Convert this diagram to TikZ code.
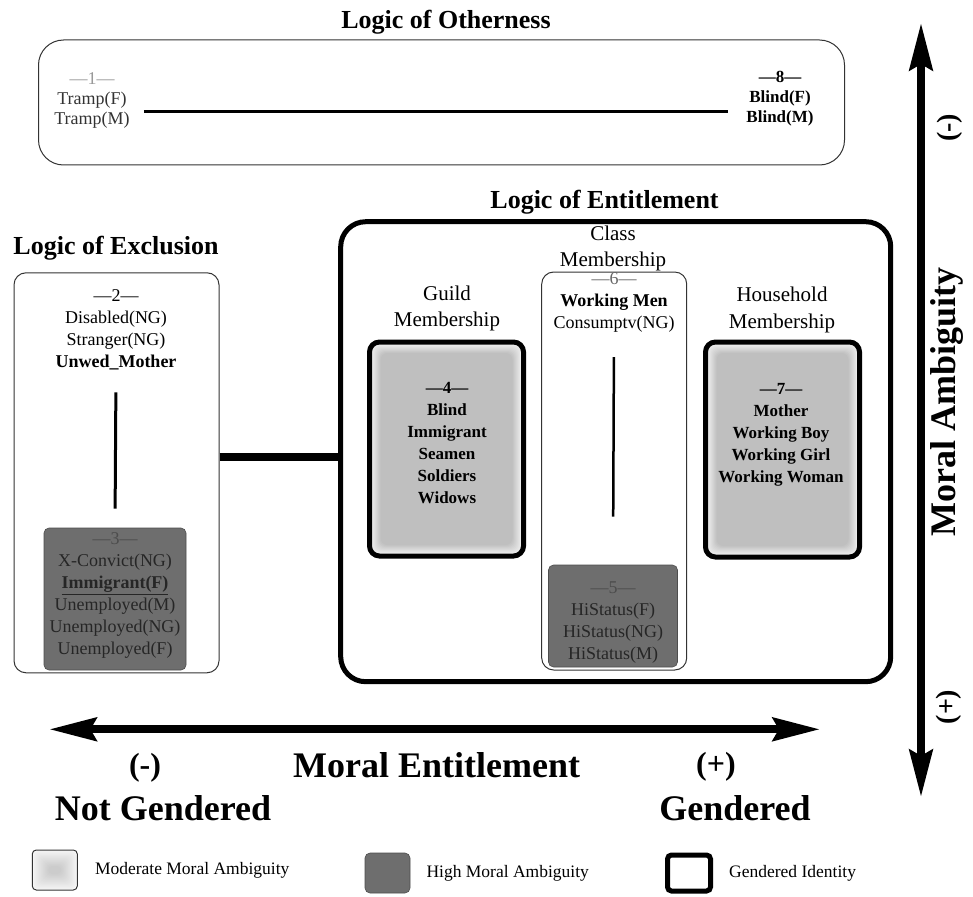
\documentclass[tikz,border=0pt]{standalone}
\usepackage{fontspec}
\setmainfont{Liberation Serif}
\usetikzlibrary{arrows.meta,positioning}
\definecolor{darkamb}{HTML}{6E6E6E}
\definecolor{rimgray}{HTML}{333333}

\begin{document}
\begin{tikzpicture}[x=1pt,y=-1pt,
	title/.style={font=\bfseries\fontsize{26}{30}\selectfont},
	memlbl/.style={align=center,font=\fontsize{21}{26.5}\selectfont},
	items/.style={align=center,inner sep=1pt,font=\fontsize{18}{22}\selectfont},
	bolditems/.style={align=center,inner sep=1pt,font=\bfseries\fontsize{17}{22}\selectfont},
	thinbox/.style={draw=rimgray,line width=1pt,inner sep=0pt},
	thickbox/.style={draw,line width=5pt,inner sep=0pt,rounded corners=10pt},
	highamb/.style={fill=darkamb,draw=darkamb!70!black,line width=.6pt,rounded corners=5pt,inner sep=0pt},
	glow/.style={fill=black!4,path picture={
		\foreach \k in {3,...,11}{
			\pgfmathtruncatemacro\lev{2*\k+3}
			\fill[black!\lev,rounded corners=7pt]
				([shift={(\k pt,-\k pt)}]path picture bounding box.north west) rectangle
				([shift={(-\k pt,\k pt)}]path picture bounding box.south east);
		}}},
	softglow/.style={fill=white,path picture={
		\foreach \k in {1,...,16}{
			\pgfmathtruncatemacro\lev{\k+4}
			\fill[black!\lev,rounded corners=4pt]
				([shift={(\k pt,-\k pt)}]path picture bounding box.north west) rectangle
				([shift={(-\k pt,\k pt)}]path picture bounding box.south east);
		}}},
	rule/.style={line width=3pt},
	axis/.style={line width=8pt,{Stealth[length=47pt,width=23pt,inset=6pt]}-{Stealth[length=47pt,width=23pt,inset=6pt]}},
	axislbl/.style={font=\bfseries\fontsize{36}{40}\selectfont},
	sign/.style={font=\bfseries\fontsize{32}{34}\selectfont},
	legtxt/.style={font=\fontsize{17.5}{20}\selectfont,inner sep=1pt}]

\useasboundingbox (0,0) rectangle (973,896);

% logic of otherness
\node[title] (othT) at (446,22) {Logic of Otherness};
\node[thinbox,rounded corners=25pt,minimum width=806pt,minimum height=125pt] (oth) at (441.5,102.5) {};
\node[items,font=\fontsize{18}{20}\selectfont,text=rimgray] (t1) at (92,100) {\textcolor{black!40}{---1---}\\Tramp(F)\\Tramp(M)};
\node[bolditems,font=\bfseries\fontsize{17}{20}\selectfont] (t8) at (780,99) {---8---\\Blind(F)\\Blind(M)};
\draw[rule] ([shift={(13,11.7)}]t1.east) -- ([shift={(-17,12.7)}]t8.west);

% logic of exclusion
\node[title] (excT) at (116,248) {Logic of Exclusion};
\node[thinbox,rounded corners=12pt,minimum width=205pt,minimum height=400pt] (excl) at (116.5,472.8) {};
\node[items] (t2) at (116,330) {---2---\\Disabled(NG)\\Stranger(NG)\\\textbf{Unwed\_Mother}};
\node[highamb,minimum width=142pt,minimum height=142pt] (g3) at (115,599) {};
\node[items,text=black!85] (t3) at (115,595.5) {\textcolor{black!70}{---3---}\\X-Convict(NG)\\\underline{\textbf{Immigrant(F)}}\\Unemployed(M)\\Unemployed(NG)\\Unemployed(F)};
\draw[rule,shorten <=21pt,shorten >=19pt] (t2.south) -- (g3.north);

% logic of entitlement
\node[title] (entT) at (604.5,202) {Logic of Entitlement};
\node[thickbox,rounded corners=25pt,minimum width=550pt,minimum height=460pt] (ent) at (615.7,451.7) {};
\draw[line width=8pt] (excl.east |- 0,456.7) -- (ent.west |- 0,456.7);

\node[memlbl] (guildL) at (447,308.5) {Guild\\Membership};
\node[thickbox,glow,minimum width=154pt,minimum height=214pt] (g4) at (446.5,449) {};
\node[bolditems] (t4) at (447,443) {---4---\\Blind\\Immigrant\\Seamen\\Soldiers\\Widows};

\node[memlbl] (classL) at (613,248.5) {Class\\Membership};
\node[thinbox,rounded corners=12pt,minimum width=145pt,minimum height=398pt] (cls) at (614.2,471) {};
\node[items] (t6) at (614,302) {\textcolor{black!60}{---6---}\\\textbf{Working Men}\\Consumptv(NG)};
\node[highamb,minimum width=129pt,minimum height=102pt] (g5) at (613,616) {};
\node[items,text=black!85] (t5) at (613,623) {\textcolor{black!70}{---5---}\\HiStatus(F)\\HiStatus(NG)\\HiStatus(M)};
\draw[line width=2.5pt,shorten <=24pt,shorten >=48pt] (t6.south) -- (g5.north);

\node[memlbl] (houseL) at (782,310) {Household\\Membership};
\node[thickbox,glow,minimum width=154pt,minimum height=215pt] (g7) at (782.5,449.5) {};
\node[bolditems] (t7) at (781,435) {---7---\\Mother\\Working Boy\\Working Girl\\Working Woman};

% moral ambiguity axis
\coordinate (ma-top) at (921,23);
\coordinate (ma-bot) at (921,797);
\draw[axis] (ma-bot) -- (ma-top);
\node[axislbl,rotate=90] (maL) at (947,402) {Moral Ambiguity};
\node[sign,font=\bfseries\fontsize{28}{30}\selectfont,rotate=90] (maMinus) at (950,128) {(-)};
\node[sign,font=\bfseries\fontsize{28}{30}\selectfont,rotate=90] (maPlus) at (949,707) {(+)};

% moral entitlement axis
\coordinate (me-l) at (49.3,729.3);
\coordinate (me-r) at (820,729.3);
\draw[axis] (me-l) -- (me-r);
\node[sign] (meMinus) at (145,768) {(-)};
\node[axislbl] (meL) at (436.7,765) {Moral Entitlement};
\node[sign] (mePlus) at (716,767) {(+)};
\node[axislbl] (ngL) at (163,808) {Not Gendered};
\node[axislbl] (gL) at (735,808) {Gendered};

% legend
\node[thinbox,softglow,rounded corners=4pt,minimum width=45pt,minimum height=40pt] (lg1) at (54.8,870) {};
\node[legtxt,right=16pt of lg1] (lgt1) {Moderate Moral Ambiguity};
\node[highamb,minimum width=45pt,minimum height=40pt] (lg2) at (387.5,873) {};
\node[legtxt,right=15pt of lg2] (lgt2) {High Moral Ambiguity};
\node[thickbox,rounded corners=4pt,minimum width=43pt,minimum height=36pt] (lg3) at (689,873) {};
\node[legtxt,right=15pt of lg3] (lgt3) {Gendered Identity};
\end{tikzpicture}
\end{document}
